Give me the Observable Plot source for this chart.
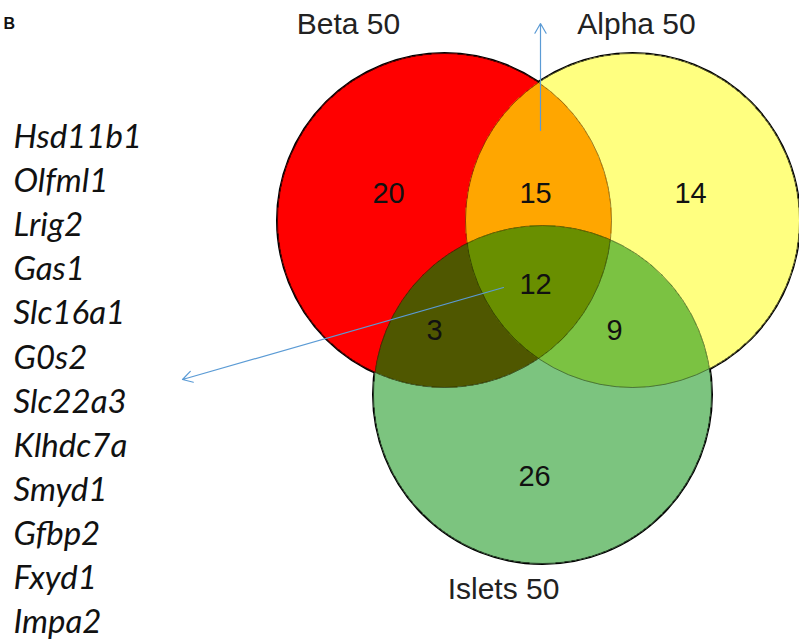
<!DOCTYPE html>
<html>
<head>
<meta charset="utf-8">
<script src="https://cdn.jsdelivr.net/npm/d3@7"></script>
<script src="https://cdn.jsdelivr.net/npm/@observablehq/plot@0.6"></script>
<style>
  html, body { margin: 0; padding: 0; background: #fff; }
  #chart svg { display: block; }
</style>
</head>
<body>
<div id="chart"></div>
<script>
// ---- data ----
const setNames = ["Beta", "Alpha", "Islets"];
const setSizes = [50, 50, 50];
// regions: membership code (B = Beta, A = Alpha, I = Islets) and gene counts
const regionKeys = ["B", "BA", "A", "BAI", "BI", "AI", "I"];
const regionCounts = [20, 15, 14, 12, 3, 9, 26];
const panelLetter = "B";
const sharedGenes = ["Hsd11b1", "Olfml1", "Lrig2", "Gas1", "Slc16a1", "G0s2",
  "Slc22a3", "Klhdc7a", "Smyd1", "Gfbp2", "Fxyd1", "Impa2"];

// ---- layout & style (pixel space) ----
const W = 799, H = 639;
const circleCx = [444, 632, 542];
const circleCy = [220, 220, 394];
const circleR = [167, 167, 169];
const setLabelPos = [[348, 24], [636, 24], [503, 589]];
const regionLabelPos = [[388, 193], [535, 193], [690, 193], [535, 284], [434, 330], [614, 330], [534, 476]];
const regionColors = {
  B: "#ff0000", A: "#ffff80", I: "#7cc47f",
  BA: "#ffa600", BI: "#4f5700", AI: "#7bc242", BAI: "#698f00"
};
const geneX = 13, geneY0 = 137, geneStep = 44.1;
const arrowColor = "#5b9bd5";

// ---- build tables ----
const circles = setNames.map((name, i) => ({
  name, size: setSizes[i], cx: circleCx[i], cy: circleCy[i], r: circleR[i],
  code: ["B", "A", "I"][i], lx: setLabelPos[i][0], ly: setLabelPos[i][1]
}));
const regions = regionKeys.map((k, i) => ({
  key: k, count: regionCounts[i], x: regionLabelPos[i][0], y: regionLabelPos[i][1]
}));
const genes = sharedGenes.map((g, i) => ({ g, x: geneX, y: geneY0 + i * geneStep }));
const arrows = [
  { x1: 540, y1: 130, x2: 540, y2: 23 },
  { x1: 503, y1: 287, x2: 182, y2: 379 }
];

function regionColor(x, y) {
  let key = "";
  for (const c of circles) {
    if ((x - c.cx) ** 2 + (y - c.cy) ** 2 <= c.r ** 2) key += c.code;
  }
  if (!key) return null;
  const order = { B: 0, A: 1, I: 2 };
  key = key.split("").sort((a, b) => order[a] - order[b]).join("");
  return regionColors[key];
}

const chart = Plot.plot({
  width: W, height: H, margin: 0,
  x: { domain: [0, W], axis: null },
  y: { domain: [0, H], range: [0, H], axis: null },
  color: { type: "identity" },
  r: { type: "identity" },
  style: { background: "#fff", overflow: "visible" },
  marks: [
    // outer outlines (full black)
    Plot.dot(circles, { x: "cx", y: "cy", r: "r", fill: "none", stroke: "#000", strokeWidth: 3 }),
    // filled regions
    Plot.raster({ x1: 0, x2: W, y1: 0, y2: H, pixelSize: 1, fill: regionColor }),
    // inner arcs (faint)
    Plot.dot(circles, { x: "cx", y: "cy", r: "r", fill: "none", stroke: "#000", strokeWidth: 1, strokeOpacity: 0.4 }),
    Plot.text(regions, { x: "x", y: "y", text: d => String(d.count), fontSize: 29, fill: "#111",
      fontFamily: "'Liberation Sans', Arial, sans-serif" }),
    Plot.text(circles, { x: "lx", y: "ly", text: d => `${d.name} ${d.size}`, fontSize: 30, fill: "#222",
      fontFamily: "'Liberation Sans', Arial, sans-serif" }),
    Plot.text(genes, { x: "x", y: "y", text: "g", textAnchor: "start", fontSize: 33, fontStyle: "italic",
      fill: "#111", fontFamily: "Lato, 'Open Sans', sans-serif" }),
    Plot.text([panelLetter], { x: 3, y: 23, text: d => d, textAnchor: "start", fontSize: 16, fontWeight: "bold",
      fill: "#111", fontFamily: "'Liberation Sans', Arial, sans-serif" }),
    Plot.arrow(arrows, { x1: "x1", y1: "y1", x2: "x2", y2: "y2", stroke: arrowColor, strokeWidth: 1.2,
      headLength: 14, headAngle: 60 })
  ]
});
document.getElementById("chart").appendChild(chart);
</script>
</body>
</html>
